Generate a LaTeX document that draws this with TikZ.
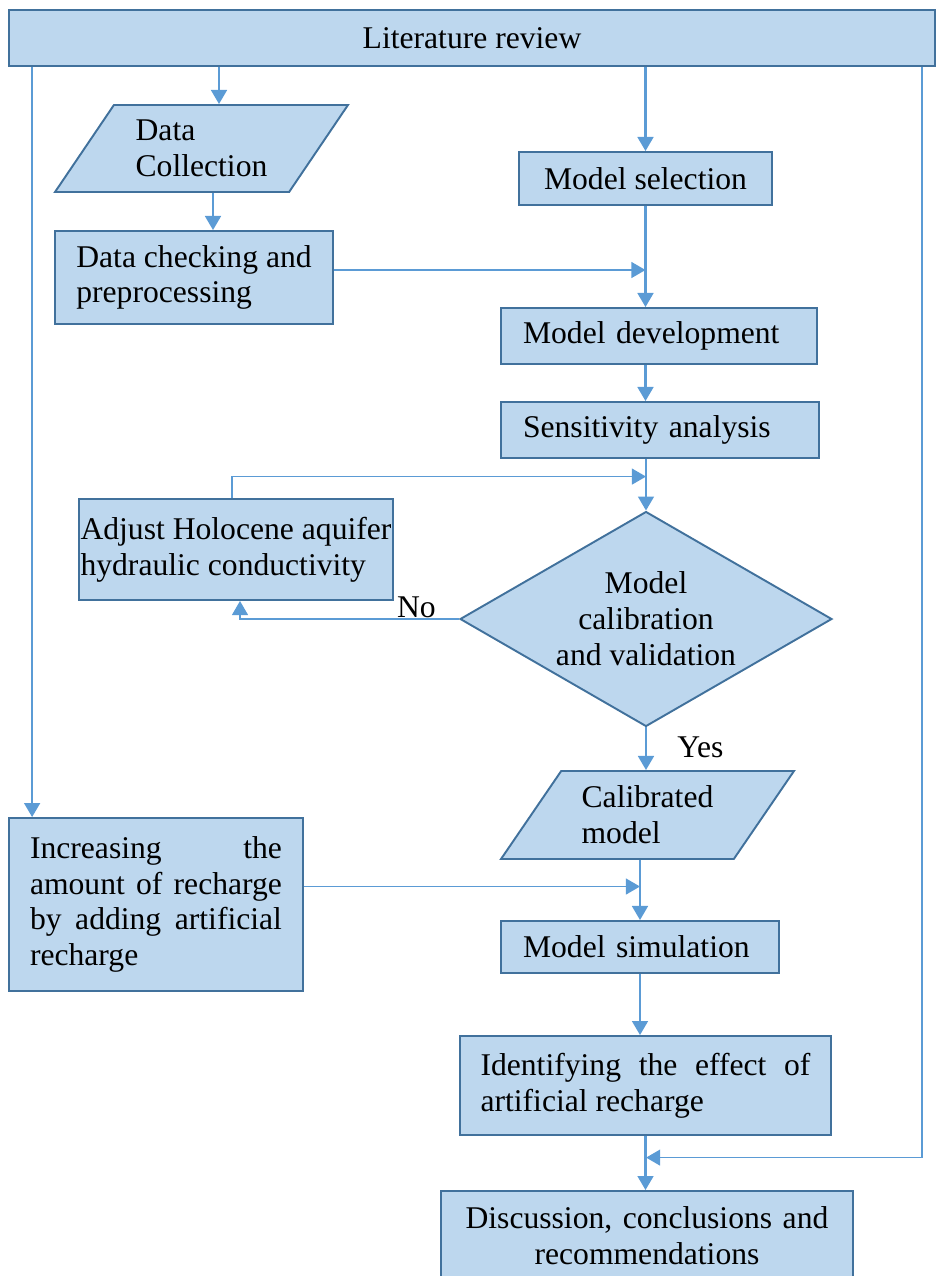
\documentclass[tikz,border=0pt]{standalone}
\usepackage{fontspec}
\setmainfont{Liberation Serif}
\usetikzlibrary{arrows.meta, positioning, shapes.geometric, calc}
\definecolor{boxFill}{HTML}{BDD7EE}
\definecolor{boxLine}{HTML}{41719C}
\definecolor{flowBlue}{HTML}{5B9BD5}

\tikzset{
  procbox/.style={rectangle, draw=boxLine, fill=boxFill, line width=1.1pt, inner ysep=0pt},
  iobox/.style={trapezium, trapezium left angle=44, trapezium right angle=136, trapezium stretches body,
    draw=boxLine, fill=boxFill, line width=1.1pt, align=left, inner sep=0pt},
  decbox/.style={diamond, aspect=1.73, draw=boxLine, fill=boxFill, line width=1.1pt, align=center, inner sep=0pt},
  flow/.style={draw=flowBlue, line width=1.3pt, -{Triangle[length=8pt,width=9pt]}},
  thinflow/.style={flow, line width=1pt},
  lbl/.style={inner sep=0pt}
}

\begin{document}
\begin{tikzpicture}[x=0.02cm, y=-0.02cm, font=\fontsize{18pt}{20.4pt}\selectfont]
    \clip (0,0) rectangle (937,1276);

    % boxes
    \node[procbox, minimum width=18.52cm, minimum height=1.12cm] (lit) at (472,38) {Literature review};
    \node[iobox, minimum width=5.86cm, minimum height=1.74cm] (data) at (201.5,148.5) {Data\\Collection};
    \node[procbox, minimum width=5.56cm, minimum height=1.86cm, align=left] (check) at (194,277.5) {Data checking and\\preprocessing};
    \node[procbox, minimum width=5.06cm, minimum height=1.06cm] (sel) at (645.5,178.5) {Model selection};
    \node[procbox, minimum width=6.32cm, minimum height=1.12cm, text width=5.44cm, inner xsep=0.44cm, align=left] (dev) at (659,336) {Model development};
    \node[procbox, minimum width=6.36cm, minimum height=1.12cm, text width=5.48cm, inner xsep=0.44cm, align=left] (sens) at (660,430) {Sensitivity analysis};
    \node[decbox, minimum width=7.44cm, minimum height=4.3cm] (dia) at (646,619) {Model\\calibration\\and validation};
    \node[procbox, minimum width=6.28cm, minimum height=2.02cm, inner xsep=0.02cm, align=left] (adj) at (236,549.5) {Adjust Holocene aquifer\\hydraulic conductivity};
    \node[iobox, minimum width=5.86cm, minimum height=1.76cm] (cal) at (647.5,815) {Calibrated\\model};
    \node[procbox, minimum width=5.88cm, minimum height=3.46cm, text width=5.04cm, inner xsep=0.42cm, align=justify] (inc) at (156,904.5) {Increasing the\linebreak amount of recharge\linebreak by adding artificial\linebreak recharge};
    \node[procbox, minimum width=5.56cm, minimum height=1.04cm, text width=4.68cm, inner xsep=0.44cm, align=left] (sim) at (640,947) {Model simulation};
    \node[procbox, minimum width=7.42cm, minimum height=1.98cm, text width=6.6cm, inner xsep=0.41cm, align=justify] (ident) at (645.5,1085.5) {Identifying the effect of\linebreak artificial recharge};
    \node[procbox, minimum width=8.24cm, minimum height=1.8cm, text width=7.6cm, inner xsep=0.32cm, align=center] (disc) at (647,1236) {Discussion, conclusions and\\recommendations};

    % helper points
    \coordinate (fb) at ([yshift=0.68cm]dia.north);
    \coordinate (mrg) at ($(ident.south)!0.4!(disc.north)$);

    % connectors
    \draw[flow] ([xshift=0.35cm]lit.south -| data.north) -- ([xshift=0.35cm]data.north);
    \draw[flow] ([xshift=0.23cm]data.south) -- ([xshift=0.23cm]data.south |- check.north);
    \draw[flow] (lit.south -| sel.north) -- (sel.north);
    \draw[thinflow] ([yshift=0.15cm]check.east) -- ([yshift=0.15cm]check.east -| sel.south);
    \draw[flow] (sel.south) -- (sel.south |- dev.north);
    \draw[flow] (dev.south -| sel.south) -- (sens.north -| sel.south);
    \draw[flow] (sens.south -| dia.north) -- (dia.north);
    \draw[thinflow] ([xshift=-0.08cm]adj.north) |- (fb);
    \draw[thinflow] (dia.west) -| ([xshift=0.08cm]adj.south);
    \draw[flow] (dia.south) -- (dia.south |- cal.north);
    \draw[flow] ([xshift=0.48cm]lit.south west) -- ([xshift=0.48cm]lit.south west |- inc.north);
    \draw[thinflow] ([yshift=0.36cm]inc.east) -- ([yshift=0.36cm]inc.east -| sim.north);
    \draw[flow] (cal.south -| sim.north) -- (sim.north);
    \draw[flow] (sim.south) -- (sim.south |- ident.north);
    \draw[flow] (ident.south) -- (ident.south |- disc.north);
    \draw[thinflow] ([xshift=-0.28cm]lit.south east) |- (mrg);

    % labels
    \node[lbl, anchor=base east] (no) at ([xshift=-0.46cm, yshift=0.04cm]dia.west) {No};
    \node[lbl, anchor=base west] (yes) at ([xshift=0.62cm, yshift=-0.6cm]dia.south) {Yes};
\end{tikzpicture}
\end{document}
